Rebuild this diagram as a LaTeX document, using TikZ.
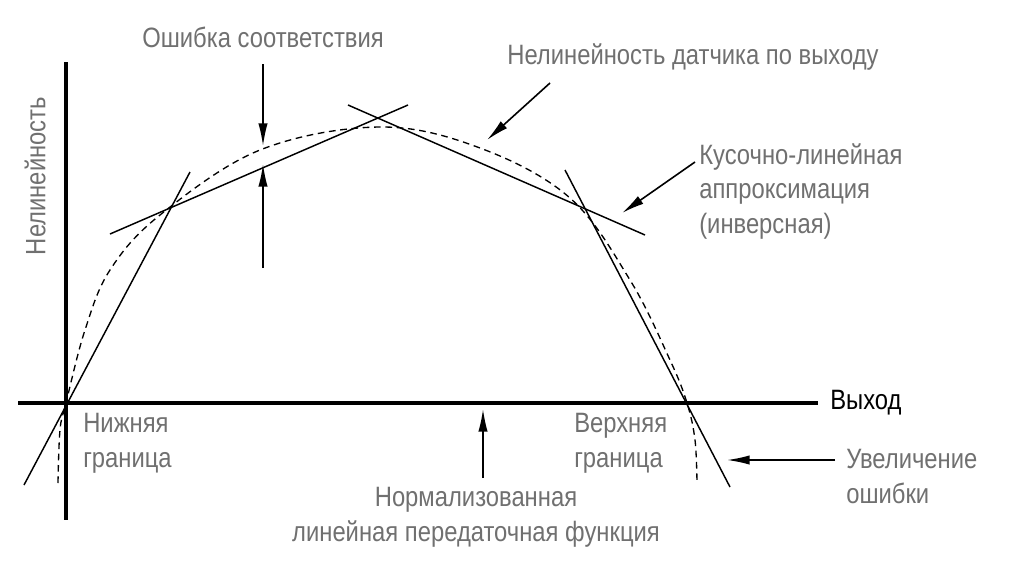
\documentclass[tikz,border=0pt]{standalone}
\usepackage{fontspec}
\setmainfont{Liberation Sans}[FakeStretch=0.85]
\usetikzlibrary{arrows.meta}
\definecolor{labelgray}{HTML}{707070}

\begin{document}
\begin{tikzpicture}[
        x={(0.75pt,0)}, y={(0,-0.75pt)},
        every node/.style={font=\fontsize{21}{26}\selectfont, inner sep=0pt},
        label/.style={text=labelgray, align=left},
        axis/.style={line width=3pt},
        approx/.style={line width=1.1pt},
        callout/.style={line width=1.2pt, -{Latex[length=17pt, width=7pt]}}
    ]
        \useasboundingbox (0,0) rectangle (1029,575);

        % Axes
        \coordinate (origin) at (66,403);
        \draw[axis] (66,62) -- (66,520);
        \draw[axis] (18,403) -- (818,403);
        \node[anchor=west] (xlab) at (830,403) {Выход};
        \node[label, rotate=90] (ylab) at (35,176) {Нелинейность};

        % Transfer curve of the sensor (dashed)
        \draw[dashed, line width=1pt, dash pattern=on 5pt off 3.5pt] plot[smooth, tension=0.6] coordinates {
            (58,483) (60,430) (66,403) (85,330) (110,270) (160,215) (260,150)
            (380,127) (480,148) (570,198) (630,280) (670,360) (687,403) (695,440) (697,483)};

        % Piecewise-linear approximation
        \draw[approx] (24,485) -- (190,172);
        \draw[approx] (110,234) -- (408,105);
        \draw[approx] (348,105) -- (645,235);
        \draw[approx] (565,170) -- (730,487);

        % Error of fit
        \node (fitErr) at (263,37) {\textcolor{labelgray}{Ошибка соответствия}};
        \coordinate (fitTop) at (263,64);
        \coordinate (fitTopEnd) at (263,146);
        \coordinate (fitBot) at (263,268);
        \coordinate (fitBotEnd) at (263,164);
        \draw[callout] (fitTop) -- (fitTopEnd);
        \draw[callout] (fitBot) -- (fitBotEnd);

        % Nonlinearity of the sensor
        \node (sensNl) at (693,57) {\textcolor{labelgray}{Нелинейность датчика по выходу}};
        \coordinate (sensTip) at (487,140);
        \draw[callout] (550,83) -- (sensTip);

        % Piecewise approximation label
        \node[label, anchor=north west] (pwLin) at (699,143) {Кусочно-линейная\\аппроксимация\\(инверсная)};
        \coordinate (pwTip) at (622,213);
        \draw[callout] (695,162) -- (pwTip);

        % Bounds
        \node[label, anchor=north west] (lowBnd) at (83,413) {Нижняя\\граница};
        \node[label, anchor=north west] (upBnd) at (574,413) {Верхняя\\граница};

        % Error growth
        \node[label, anchor=north west] (errGrow) at (846,449) {Увеличение\\ошибки};
        \coordinate (growTip) at (727,460);
        \draw[callout] (835,460) -- (growTip);

        % Normalised linear transfer function
        \node[label, align=center, anchor=north] (normTf) at (476,487) {Нормализованная\\линейная передаточная функция};
        \coordinate (normTip) at (483,409);
        \draw[callout] (483,478) -- (normTip);
    \end{tikzpicture}
\end{document}
